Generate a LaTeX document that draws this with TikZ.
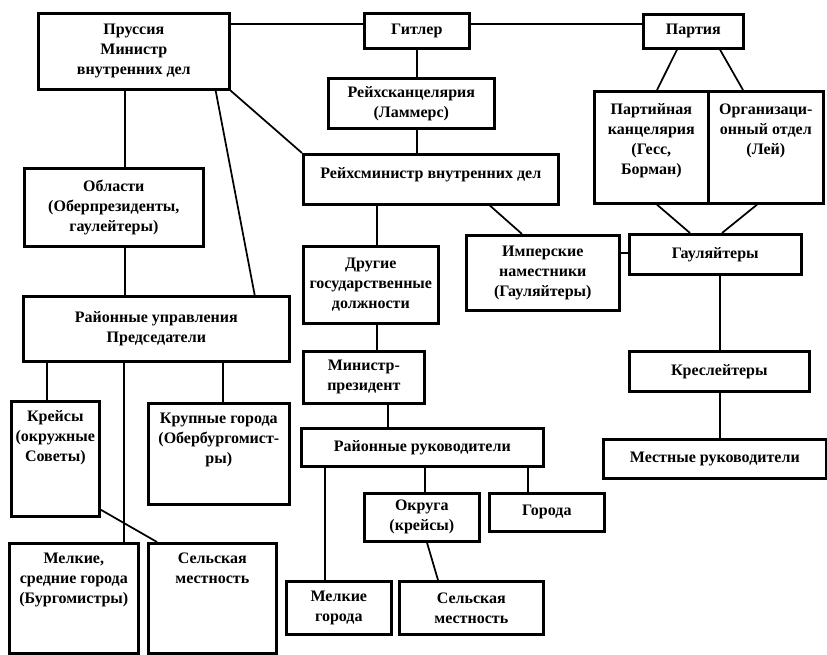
\documentclass[tikz,border=0pt]{standalone}
\usepackage{fontspec}
\setmainfont{Liberation Serif}
\usetikzlibrary{calc}

\begin{document}
\begin{tikzpicture}[x=0.75pt,y=0.75pt,yscale=-1,xscale=1,
	blk/.style 2 args={draw, line width=2pt, inner sep=0pt, anchor=north west, minimum width=#1*0.75pt, minimum height=#2*0.75pt},
	lbl/.style={font=\bfseries\fontsize{12}{15}\selectfont, align=center, inner sep=0pt},
	toplbl/.style={lbl, anchor=north, inner ysep=#1},
	lnk/.style={line width=1.3pt}]
	%page frame, same size as the scan
	\useasboundingbox (0,0) rectangle (827,655);
	
	%top row
	\node [blk={191}{76}, label={[lbl]center:Пруссия\\Министр\\внутренних дел}] (prus) at (37,12) {};
	\node [blk={105}{35}, label={[lbl]center:Гитлер}] (hitler) at (363,12) {};
	\node [blk={100}{34}, label={[lbl]center:Партия}] (partei) at (642,13) {};
	\node [blk={166}{50}, label={[lbl]center:Рейхсканцелярия\\(Ламмерс)}] (kanz) at (327,77) {};
	\node [blk={255}{50}, label={[toplbl=11pt]north:Рейхсминистр внутренних дел}] (rmin) at (302,153) {};
	\node [blk={114}{112}, label={[toplbl=10pt]north:{Партийная\\канцелярия\\(Гесс,\\Борман)}}] (pkanz) at (593,90) {};
	\node [blk={115}{112}, label={[toplbl=10pt]north:{Организаци-\\онный отдел\\(Лей)}}] (orgab) at (707,90) {};
	
	%left column
	\node [blk={179}{78}, label={[lbl]center:{Области\\(Оберпрезиденты,\\гаулейтеры)}}] (obl) at (23,167) {};
	\node [blk={266}{65}, label={[lbl]center:Районные управления\\Председатели}] (rupr) at (22,295) {};
	\node [blk={88}{115}, label={[toplbl=8pt]north:Крейсы\\(окружные\\Советы)}] (kreis) at (10,400) {};
	\node [blk={141}{101}, label={[toplbl=8pt]north:Крупные города\\(Обербургомист-\\ры)}] (grst) at (147,402) {};
	\node [blk={129}{110}, label={[toplbl=8pt]north:{Мелкие,\\средние города\\(Бургомистры)}}] (mstad) at (8,542) {};
	\node [blk={128}{110}, label={[toplbl=8pt]north:Сельская\\местность}] (sel1) at (147,542) {};
	
	%middle column
	\node [blk={135}{77}, label={[lbl]center:Другие\\государственные\\должности}] (dgd) at (302,245) {};
	\node [blk={153}{75}, label={[lbl]center:Имперские\\наместники\\(Гауляйтеры)}] (reichs) at (465,234) {};
	\node [blk={121}{52}, label={[lbl]center:Министр-\\президент}] (mpres) at (302,350) {};
	\node [blk={242}{38}, label={[lbl]center:Районные руководители}] (rruk) at (300,427) {};
	\node [blk={115}{48}, label={[lbl]center:Округа\\(крейсы)}] (okr) at (363,492) {};
	\node [blk={115}{38}, label={[lbl]center:Города}] (stadt) at (488,492) {};
	\node [blk={105}{53}, label={[lbl]center:Мелкие\\города}] (mgor) at (285,580) {};
	\node [blk={144}{53}, label={[lbl]center:Сельская\\местность}] (sel2) at (398,580) {};
	
	%right column
	\node [blk={172}{40}, label={[lbl]center:Гауляйтеры}] (gaul) at (628,233) {};
	\node [blk={180}{40}, label={[lbl]center:Креслейтеры}] (kresl) at (628,350) {};
	\node [blk={223}{39}, label={[lbl]center:Местные руководители}] (mruk) at (602,438) {};
	
	%links, top
	\draw [lnk] ($(prus.north east)+(0,12)$) -- ($(hitler.north west)+(0,12)$);
	\draw [lnk] ($(hitler.north east)+(0,12)$) -- ($(partei.north west)+(0,11)$);
	\draw [lnk] ($(hitler.south west)+(54,0)$) -- ($(kanz.north west)+(90,0)$);
	\draw [lnk] ($(kanz.south west)+(90,0)$) -- ($(rmin.north west)+(115,0)$);
	\draw [lnk] (prus.south east) -- (rmin.north west);
	\draw [lnk] ($(prus.south east)+(-15,0)$) -- ($(rupr.north east)+(-36,0)$);
	
	%links, left
	\draw [lnk] ($(prus.south west)+(88,0)$) -- ($(obl.north west)+(102,0)$);
	\draw [lnk] ($(obl.south west)+(102,0)$) -- ($(rupr.north west)+(103,0)$);
	\draw [lnk] ($(rupr.south west)+(25,0)$) -- ($(kreis.north west)+(37,0)$);
	\draw [lnk] ($(rupr.south west)+(102,0)$) -- ($(mstad.north west)+(116,0)$);
	\draw [lnk] ($(rupr.south west)+(201,0)$) -- ($(grst.north west)+(76,0)$);
	\draw [lnk] ($(kreis.south east)+(0,-8)$) -- ($(sel1.north west)+(10,0)$);
	
	%links, middle
	\draw [lnk] ($(rmin.south west)+(75,0)$) -- ($(dgd.north west)+(75,0)$);
	\draw [lnk] ($(rmin.south west)+(188,0)$) -- ($(reichs.north west)+(57,0)$);
	\draw [lnk] ($(reichs.north east)+(0,19)$) -- ($(gaul.north west)+(0,20)$);
	\draw [lnk] ($(dgd.south west)+(75,0)$) -- ($(mpres.north west)+(75,0)$);
	\draw [lnk] ($(mpres.south west)+(86,0)$) -- ($(rruk.north west)+(88,0)$);
	\draw [lnk] ($(rruk.south west)+(25,0)$) -- ($(mgor.north west)+(40,0)$);
	\draw [lnk] ($(rruk.south west)+(125,0)$) -- ($(okr.north west)+(62,0)$);
	\draw [lnk] ($(rruk.south west)+(228,0)$) -- ($(stadt.north west)+(40,0)$);
	\draw [lnk] ($(okr.south west)+(64,0)$) -- ($(sel2.north west)+(40,0)$);
	
	%links, right
	\draw [lnk] ($(partei.south west)+(35,0)$) -- ($(pkanz.north west)+(64,0)$);
	\draw [lnk] ($(partei.south west)+(78,0)$) -- ($(orgab.north west)+(36,0)$);
	\draw [lnk] ($(pkanz.south west)+(64,0)$) -- ($(gaul.north west)+(62,0)$);
	\draw [lnk] ($(orgab.south west)+(50,0)$) -- ($(gaul.north west)+(94,0)$);
	\draw [lnk] ($(gaul.south west)+(92,0)$) -- ($(kresl.north west)+(92,0)$);
	\draw [lnk] ($(kresl.south west)+(92,0)$) -- ($(mruk.north west)+(118,0)$);
	
\end{tikzpicture}
\end{document}
